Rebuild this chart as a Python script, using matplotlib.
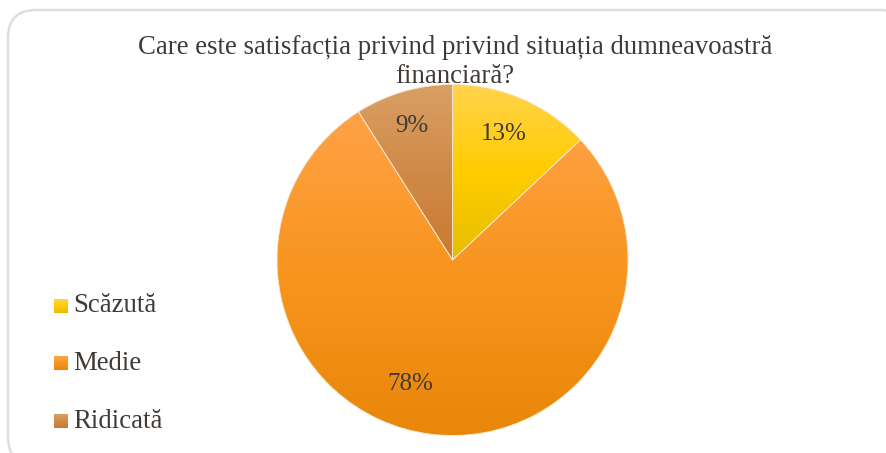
import numpy as np
import matplotlib
matplotlib.use("Agg")
import matplotlib.pyplot as plt
from matplotlib.patches import FancyBboxPatch, Rectangle
from matplotlib.colors import LinearSegmentedColormap

title = "Care este satisfacția privind privind situația dumneavoastră\nfinanciară?"
categories = ["Scăzută", "Medie", "Ridicată"]
values = [13, 78, 9]
pct_labels = ["13%", "78%", "9%"]
grad_top = ["#FFD44D", "#FFA247", "#D9A064"]
grad_mid = ["#FFCC00", "#F8951E", "#D08A48"]
grad_bot = ["#E6BE00", "#E8870A", "#C97A2E"]

W, H = 886, 453
fig = plt.figure(figsize=(W / 100, H / 100), dpi=100)
ax = fig.add_axes([0, 0, 1, 1])

plt.rcParams['font.family'] = ['Liberation Serif', 'DejaVu Serif']
txt_color = "#403A36"

# chart border
border = FancyBboxPatch((8, -12), 900, 455, boxstyle="round,pad=0,rounding_size=28",
                        linewidth=1.8, edgecolor="#E2DDD8", facecolor="white", zorder=0)
ax.add_patch(border)

cx, cy, R = 452.5, H - 260, 175.5
wedges, texts = ax.pie(values, startangle=90, counterclock=False, center=(cx, cy),
                       radius=R, frame=True,
                       wedgeprops=dict(edgecolor="#F3E6D0", linewidth=0.6))

for i, w in enumerate(wedges):
    w.set_facecolor("none")
    path = w.get_path()
    ext = path.get_extents()
    cmap = LinearSegmentedColormap.from_list(f"g{i}", [grad_bot[i], grad_mid[i], grad_top[i]])
    grad = np.linspace(0, 1, 256).reshape(-1, 1)
    im = ax.imshow(grad, cmap=cmap, origin="lower", aspect="auto",
                   extent=(ext.x0, ext.x1, ext.y0, ext.y1), zorder=1)
    im.set_clip_path(w)
    w.set_zorder(2)

# percentage labels
label_pos = [(504, H - 134), (410, H - 384), (412, H - 126)]
for lab, (x, y) in zip(pct_labels, label_pos):
    ax.text(x, y, lab, ha="center", va="center", fontsize=18, color=txt_color, zorder=3)

ax.text(455, H - 62, title, ha="center", va="center", fontsize=19.3, color=txt_color,
        linespacing=1.22, zorder=3)

# legend
leg_y = [306, 363, 421]
for i, (cat, y) in enumerate(zip(categories, leg_y)):
    sq = Rectangle((54, H - y - 7), 14, 14, facecolor="none", edgecolor="none", zorder=2)
    ax.add_patch(sq)
    cmap = LinearSegmentedColormap.from_list(f"l{i}", [grad_bot[i], grad_mid[i], grad_top[i]])
    im = ax.imshow(np.linspace(0, 1, 32).reshape(-1, 1), cmap=cmap, origin="lower",
                   aspect="auto", extent=(54, 68, H - y - 7, H - y + 7), zorder=2)
    im.set_clip_path(sq)
    ax.text(73, H - y, cat, ha="left", va="center", fontsize=19.3, color=txt_color, zorder=3)

ax.set_xlim(0, W)
ax.set_ylim(0, H)
ax.set_aspect("auto")
ax.axis("off")
fig.savefig("out.png", dpi=100)
